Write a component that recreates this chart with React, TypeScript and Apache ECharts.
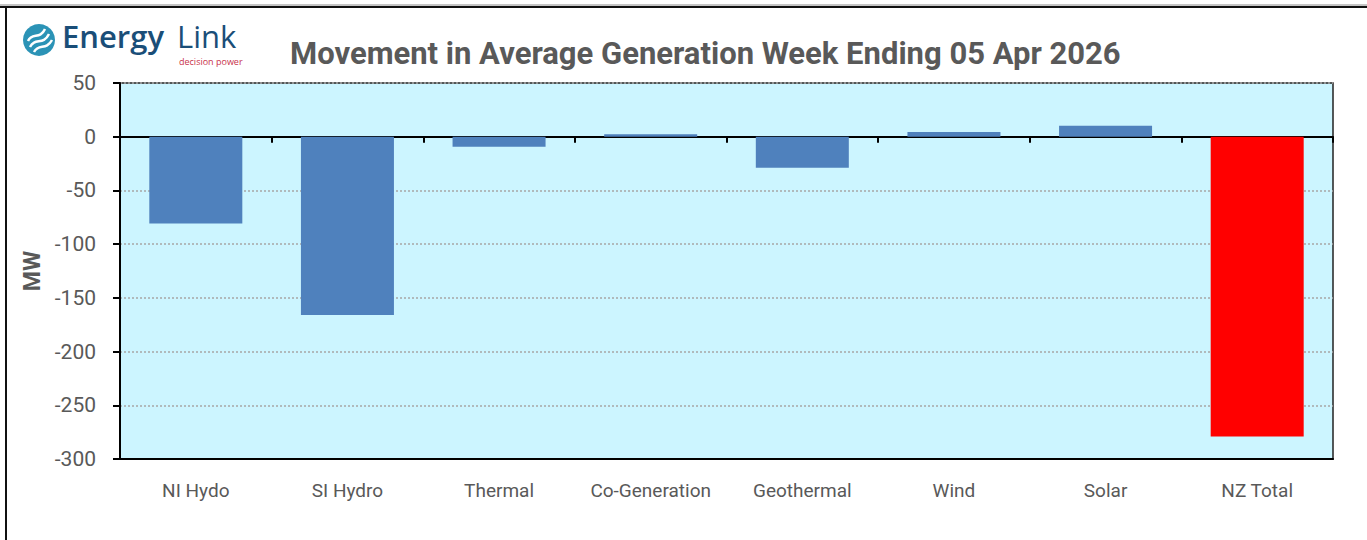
import React, { useEffect, useRef } from "react";
import * as echarts from "echarts";

const categories = ["NI Hydo", "SI Hydro", "Thermal", "Co-Generation", "Geothermal", "Wind", "Solar", "NZ Total"];
const movementMW = [-80.7, -166, -9.3, 2.2, -28.9, 4.4, 10.2, -279];
const yTicks = { min: -300, max: 50, interval: 50 };
const titleText = "Movement in Average Generation Week Ending 05 Apr 2026";
const yName = "MW";

export default function App() {
  const ref = useRef<HTMLDivElement>(null);
  useEffect(() => {
    if (!ref.current) return;
    const chart = echarts.init(ref.current, undefined, { renderer: "svg" });
    const grey = "#595959";
    const option: any = {
      animation: false,
      backgroundColor: "#ffffff",
      title: {
        text: titleText,
        left: 285,
        top: 33,
        textStyle: { fontFamily: "Roboto", fontWeight: "bold", fontSize: 31, color: grey },
      },
      grid: {
        left: 120,
        right: 34,
        top: 83,
        bottom: 81,
        show: true,
        backgroundColor: "#CCF5FF",
        borderColor: "#222222",
        borderWidth: 1.5,
      },
      xAxis: [
        {
          type: "category",
          data: categories,
          position: "bottom",
          axisLine: { show: true, onZero: false, lineStyle: { color: "#000", width: 2 } },
          axisTick: { show: false },
          axisLabel: { interval: 0, fontFamily: "Roboto", fontSize: 19, color: grey, margin: 22 },
          splitLine: { show: false },
        },
        {
          type: "category",
          data: categories,
          position: "top",
          axisLine: { show: true, onZero: true, lineStyle: { color: "#000", width: 2 } },
          axisTick: { show: true, inside: true, interval: 0, length: 6, lineStyle: { color: "#000", width: 2 } },
          axisLabel: { show: false },
          splitLine: { show: false },
        },
      ],
      yAxis: {
        type: "value",
        min: yTicks.min,
        max: yTicks.max,
        interval: yTicks.interval,
        name: yName,
        nameLocation: "middle",
        nameRotate: 90,
        nameGap: 70,
        nameTextStyle: { fontFamily: "Roboto", fontWeight: "bold", fontSize: 23, color: grey },
        axisLine: { show: true, onZero: false, lineStyle: { color: "#000", width: 2 } },
        axisTick: { show: true, length: 7, lineStyle: { color: "#000", width: 2 } },
        axisLabel: { fontFamily: "Roboto", fontSize: 21, color: grey, margin: 24 },
        splitLine: { show: true, lineStyle: { color: "#A6A6A6", width: 1.5, type: [2, 2] } },
      },
      series: [
        {
          type: "bar",
          xAxisIndex: 0,
          data: movementMW.map((v, i) => ({
            value: v,
            itemStyle: { color: i === movementMW.length - 1 ? "#FF0000" : "#4F81BD" },
          })),
          barWidth: 93,
        },
      ],
      graphic: [
        { type: "line", shape: { x1: 0, y1: 5, x2: 1367, y2: 5 }, style: { stroke: "#8a8a8a", lineWidth: 1 }, silent: true },
        { type: "line", shape: { x1: 0, y1: 7, x2: 1367, y2: 7 }, style: { stroke: "#111", lineWidth: 2 }, silent: true },
        { type: "line", shape: { x1: 6, y1: 7, x2: 6, y2: 540 }, style: { stroke: "#111", lineWidth: 2 }, silent: true },
        { type: "circle", shape: { cx: 39, cy: 40, r: 16 }, style: { fill: "#2B93B6" } },
        { type: "bezierCurve", shape: { x1: 28, y1: 41, cpx1: 32, cpy1: 32, cpx2: 40, cpy2: 40, x2: 45, y2: 29 }, style: { stroke: "#fff", lineWidth: 2.5, fill: "none" } },
        { type: "bezierCurve", shape: { x1: 30, y1: 47, cpx1: 35, cpy1: 37, cpx2: 43, cpy2: 46, x2: 49, y2: 34 }, style: { stroke: "#fff", lineWidth: 2.5, fill: "none" } },
        { type: "bezierCurve", shape: { x1: 34, y1: 52, cpx1: 39, cpy1: 43, cpx2: 46, cpy2: 51, x2: 52, y2: 40 }, style: { stroke: "#fff", lineWidth: 2.5, fill: "none" } },
        {
          type: "text",
          left: 62,
          top: 20,
          style: { text: "Energy", font: "600 31px 'Open Sans'", fill: "#1A4E78", lineHeight: 31 },
        },
        {
          type: "text",
          left: 177,
          top: 20,
          style: { text: "Link", font: "400 31px 'Open Sans'", fill: "#1A4E78", lineHeight: 31 },
        },
        {
          type: "text",
          left: 179,
          top: 57,
          style: { text: "decision power", font: "400 9px 'Open Sans'", fill: "#C8324A", lineHeight: 9 },
        },
      ],
    };
    chart.setOption(option);
    return () => chart.dispose();
  }, []);
  return <div ref={ref} style={{ position: "absolute", left: 0, top: 0, width: 1367, height: 540 }} />;
}
